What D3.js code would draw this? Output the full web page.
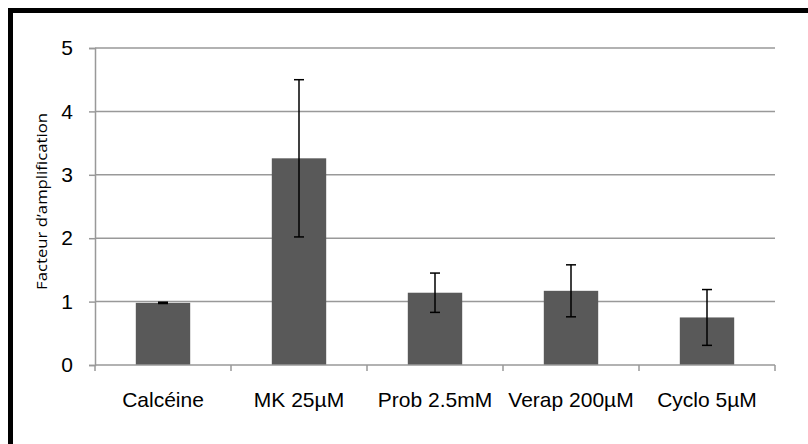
<!DOCTYPE html>
<html>
<head>
<meta charset="utf-8">
<script src="https://cdn.jsdelivr.net/npm/d3@7"></script>
<style>
  html, body { margin: 0; padding: 0; background: #fff; }
  svg { display: block; }
</style>
</head>
<body>
<svg id="chart" width="808" height="444"></svg>
<script>
const categories = ["Calcéine", "MK 25µM", "Prob 2.5mM", "Verap 200µM", "Cyclo 5µM"];
const values = [0.98, 3.26, 1.14, 1.17, 0.75];
const errors = [0.01, 1.24, 0.31, 0.41, 0.44];
const yTicks = [0, 1, 2, 3, 4, 5];
const yLabel = "Facteur d’amplification";

const svg = d3.select("#chart");
const W = 808, H = 444;
const m = { left: 95, right: 33, top: 48, bottom: 79 };

// outer frame
svg.append("rect")
  .attr("x", 10.5).attr("y", 10.5)
  .attr("width", 820).attr("height", 450)
  .attr("fill", "none").attr("stroke", "#000").attr("stroke-width", 5);

const x = d3.scaleBand().domain(categories)
  .range([m.left, W - m.right]).paddingInner(0.6).paddingOuter(0.3);
const y = d3.scaleLinear().domain([0, 5]).range([H - m.bottom, m.top]);

// gridlines
svg.append("g").selectAll("line").data(yTicks.filter(d => d > 0)).join("line")
  .attr("x1", m.left).attr("x2", W - m.right)
  .attr("y1", d => y(d)).attr("y2", d => y(d))
  .attr("stroke", "#999").attr("stroke-width", 1.5);

// bars
svg.append("g").selectAll("rect").data(categories).join("rect")
  .attr("x", d => x(d)).attr("width", x.bandwidth())
  .attr("y", (d, i) => y(values[i]))
  .attr("height", (d, i) => y(0) - y(values[i]))
  .attr("fill", "#595959");

// y axis
const yAxis = svg.append("g").attr("transform", `translate(${m.left},0)`)
  .call(d3.axisLeft(y).tickValues(yTicks).tickFormat(d3.format("d")).tickSize(6).tickPadding(16));
yAxis.select(".domain").attr("stroke", "#999").attr("stroke-width", 1.5);
yAxis.selectAll(".tick line").attr("stroke", "#999").attr("stroke-width", 1.5);
yAxis.selectAll(".tick text")
  .attr("font-family", "Liberation Sans, Arial, sans-serif")
  .attr("font-size", 21).attr("fill", "#000");

// x axis with ticks at band boundaries
const xAxisG = svg.append("g").attr("transform", `translate(0,${y(0)})`);
const bounds = d3.range(categories.length + 1).map(i => m.left + i * (W - m.left - m.right) / categories.length);
xAxisG.append("line").attr("x1", m.left).attr("x2", W - m.right)
  .attr("stroke", "#999").attr("stroke-width", 1.5);
xAxisG.selectAll("line.tk").data(bounds).join("line").attr("class", "tk")
  .attr("x1", d => d).attr("x2", d => d).attr("y1", 0).attr("y2", 6)
  .attr("stroke", "#999").attr("stroke-width", 1.5);
xAxisG.selectAll("text").data(categories).join("text")
  .attr("x", d => x(d) + x.bandwidth() / 2).attr("y", 42)
  .attr("text-anchor", "middle")
  .attr("font-family", "Liberation Sans, Arial, sans-serif")
  .attr("font-size", 21).attr("fill", "#000")
  .text(d => d);

// error bars
const eb = svg.append("g").attr("stroke", "#000").attr("stroke-width", 1.5);
categories.forEach((c, i) => {
  const cx = x(c) + x.bandwidth() / 2;
  const lo = y(values[i] - errors[i]), hi = y(values[i] + errors[i]);
  eb.append("line").attr("x1", cx).attr("x2", cx).attr("y1", lo).attr("y2", hi);
  eb.append("line").attr("x1", cx - 5).attr("x2", cx + 5).attr("y1", lo).attr("y2", lo);
  eb.append("line").attr("x1", cx - 5).attr("x2", cx + 5).attr("y1", hi).attr("y2", hi);
});

// y label
svg.append("text")
  .attr("transform", `translate(47,${(113 + 290) / 2}) rotate(-90)`)
  .attr("text-anchor", "middle")
  .attr("font-family", "Open Sans, sans-serif")
  .attr("font-size", 15).attr("fill", "#000")
  .attr("textLength", 177).attr("lengthAdjust", "spacingAndGlyphs")
  .text(yLabel);
</script>
</body>
</html>
